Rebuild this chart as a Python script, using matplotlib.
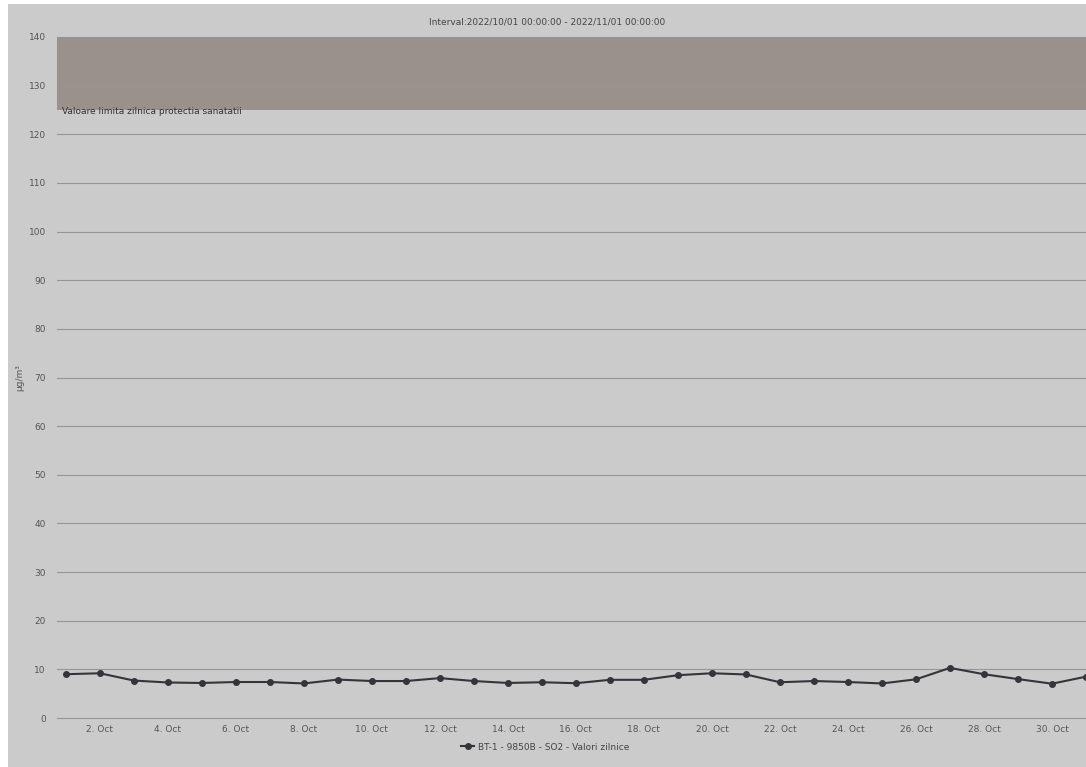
import matplotlib
matplotlib.use('Agg')
import matplotlib.pyplot as plt
from matplotlib.patches import Rectangle

# daily SO2 values, October 2022
days = list(range(1, 32))
so2 = [9.0, 9.2, 7.7, 7.3, 7.2, 7.4, 7.4, 7.1, 7.9, 7.6,
       7.6, 8.2, 7.6, 7.2, 7.35, 7.15, 7.85, 7.85, 8.8, 9.2,
       8.95, 7.35, 7.6, 7.4, 7.1, 7.95, 10.3, 9.0, 8.0, 7.05, 8.5]
tick_days = list(range(2, 31, 2))
tick_labels = ['%d. Oct' % d for d in tick_days]
y_ticks = list(range(0, 141, 10))
band_low, band_high = 125, 140
band_label = 'Valoare limita zilnica protectia sanatatii'
series_name = 'BT-1 - 9850B - SO2 - Valori zilnice'
subtitle = 'Interval:2022/10/01 00:00:00 - 2022/11/01 00:00:00'

bg = '#cbcbcb'
fig = plt.figure(figsize=(10.86, 7.67), dpi=100, facecolor='white')
fig.patches.append(Rectangle((8 / 1086, 0), 1, 1 - 4 / 767, transform=fig.transFigure,
                             facecolor=bg, edgecolor='none', zorder=-10))

ax = fig.add_axes([57 / 1086, 1 - 718 / 767, 1 - 57 / 1086, (718 - 37) / 767])
ax.set_facecolor(bg)
ax.set_xlim(0.74, 31.0)
ax.set_ylim(0, 140)

ax.axhspan(band_low, band_high, color='#9b918c', zorder=1, lw=0)
ax.text(0.9, band_low - 0.3, band_label, fontsize=6.5, color='#333333', va='center', ha='left', zorder=3)

ax.set_yticks(y_ticks)
for yv in y_ticks:
    ax.axhline(yv, color='#959595', lw=0.8, zorder=2, clip_on=False)
ax.set_xticks(tick_days)
ax.set_xticklabels(tick_labels)
ax.tick_params(axis='both', length=0, labelsize=6.5, labelcolor='#555555')
ax.tick_params(axis='y', pad=8)
ax.tick_params(axis='x', pad=5)
for s in ax.spines.values():
    s.set_visible(False)

ax.plot(days, so2, color='#34343c', lw=1.5, marker='o', ms=4, zorder=5, clip_on=False,
        label=series_name)

ax.set_ylabel('µg/m³', fontsize=6.5, color='#555555', labelpad=3)

fig.text(547 / 1086, 1 - 22 / 767, subtitle, fontsize=6.5, color='#444444', ha='center', va='center')

leg = fig.legend(loc='center', bbox_to_anchor=(545 / 1086, 1 - 747 / 767), frameon=False,
                 fontsize=6.5, handlelength=1.5, handletextpad=0.4)
for t in leg.get_texts():
    t.set_color('#444444')

fig.savefig('out.png', dpi=100, facecolor=fig.get_facecolor())
